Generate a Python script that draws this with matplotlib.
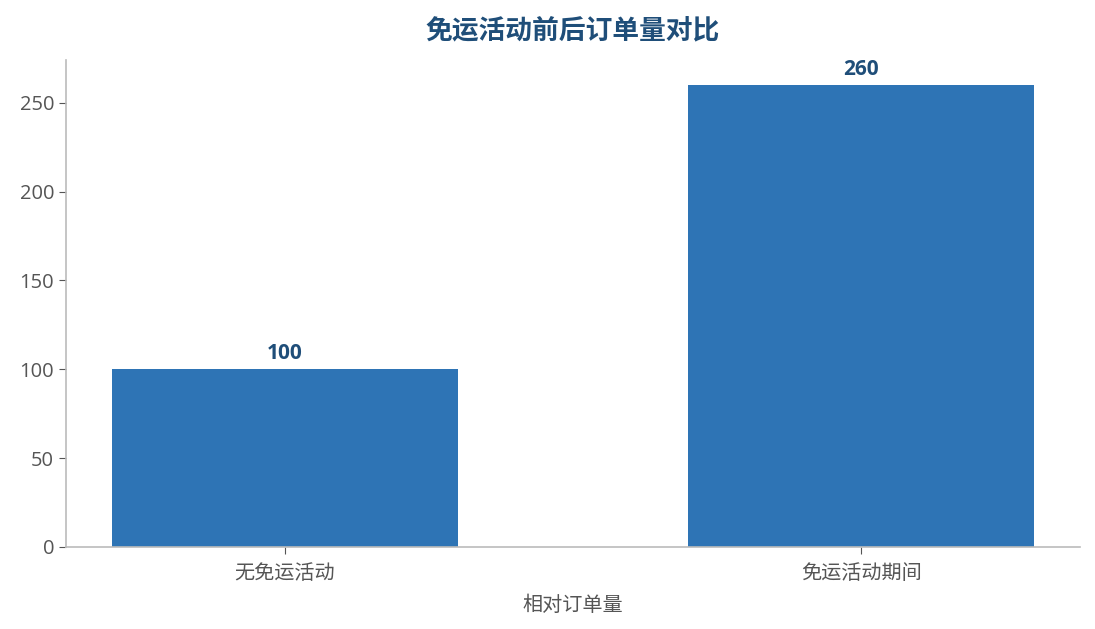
import matplotlib
matplotlib.use("Agg")
import matplotlib.pyplot as plt

categories = ["无免运活动", "免运活动期间"]
values = [100, 260]
title = "免运活动前后订单量对比"
xlabel = "相对订单量"

plt.rcParams['font.family'] = ['Open Sans', 'Noto Sans CJK SC', 'DejaVu Sans']

fig = plt.figure(figsize=(10.95, 6.29), dpi=100)
ax = fig.add_axes([0.0603, 0.1304, 0.926, 0.774])

x = list(range(len(categories)))
bars = ax.bar(x, values, width=0.6, color="#2e74b5")
ax.set_xticks(x)
ax.set_xticklabels(categories)
ax.set_ylim(0, 274)
ax.set_yticks([0, 50, 100, 150, 200, 250])

for b, v in zip(bars, values):
    ax.text(b.get_x() + b.get_width() / 2, v + 3, str(v), ha="center", va="bottom",
            fontsize=15, fontweight="bold", color="#1f4e79")

ax.set_title(title, fontsize=19.3, fontweight="bold", color="#1f4e79", pad=16)
ax.set_xlabel(xlabel, fontsize=14.5, color="#555555", labelpad=9)

for s in ["top", "right"]:
    ax.spines[s].set_visible(False)
for s in ["left", "bottom"]:
    ax.spines[s].set_color("#bbbbbb")
    ax.spines[s].set_linewidth(1.2)
ax.tick_params(axis="both", colors="#555555", labelsize=14.5, length=5)
ax.tick_params(axis="x", pad=7)

fig.savefig("out.png", dpi=100)
